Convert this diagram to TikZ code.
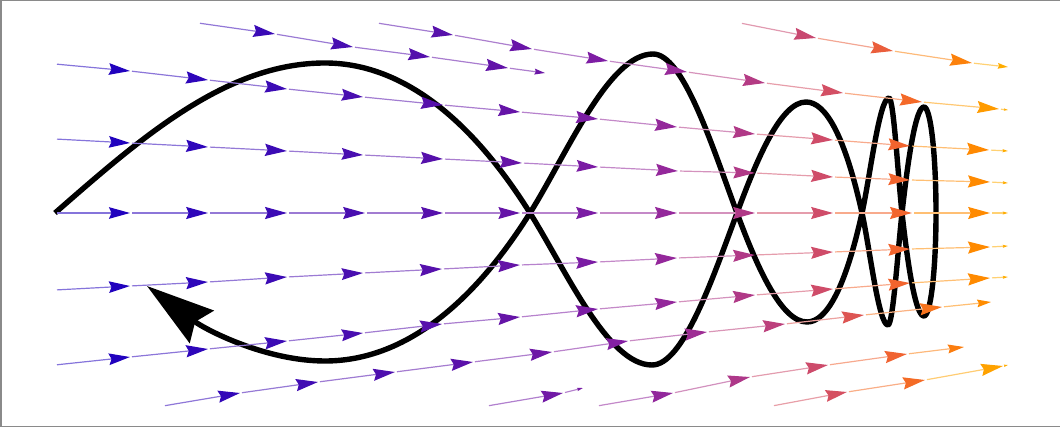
\documentclass[tikz,border=0pt]{standalone}
\usetikzlibrary{arrows.meta}
\definecolor{c0}{HTML}{1C00C0}
\definecolor{c1}{HTML}{3E0CB4}
\definecolor{c2}{HTML}{6012A8}
\definecolor{c3}{HTML}{8A22A2}
\definecolor{c4}{HTML}{B23A86}
\definecolor{c5}{HTML}{D24E66}
\definecolor{c6}{HTML}{F2642E}
\definecolor{c7}{HTML}{FF8A00}
\definecolor{c8}{HTML}{FFB000}
\definecolor{framegray}{HTML}{8A8A8A}
\newcommand\mixc[4]{\pgfmathsetmacro\rr{(\sx-#1)/(#2-#1)}\pgfmathtruncatemacro\pp{max(0,min(100,100*\rr))}\colorlet{segc}{#4!\pp!#3}}
\newcommand\segcolor[1]{\pgfmathsetmacro\sx{#1}%
 \ifdim\sx pt<300pt\relax \mixc{100}{300}{c0}{c1}%
 \else\ifdim\sx pt<500pt\relax \mixc{300}{500}{c1}{c2}%
 \else\ifdim\sx pt<650pt\relax \mixc{500}{650}{c2}{c3}%
 \else\ifdim\sx pt<760pt\relax \mixc{650}{760}{c3}{c4}%
 \else\ifdim\sx pt<840pt\relax \mixc{760}{840}{c4}{c5}%
 \else\ifdim\sx pt<910pt\relax \mixc{840}{910}{c5}{c6}%
 \else\ifdim\sx pt<990pt\relax \mixc{910}{990}{c6}{c7}%
 \else \mixc{990}{1010}{c7}{c8}%
 \fi\fi\fi\fi\fi\fi\fi}
\newcommand\stream[3]{%
 \foreach \x/\y [remember=\x as \px (initially #1), remember=\y as \py (initially #2)] in {#3}{%
  \segcolor{\x}%
  \pgfmathsetmacro\arlen{max(4,min(22,0.28*veclen(\x-\px,\y-\py)))}%
  \pgfmathsetmacro\arwid{0.55*\arlen}%
  \pgfmathsetmacro\arins{0.12*\arlen}%
  \draw[streamseg, draw=segc!55!white,
    -{Stealth[length=\arlen pt,width=\arwid pt,inset=\arins pt,color=segc]}]
    (\px,\py) -- (\x,\y);
 }}
\tikzset{
  streamseg/.style={line width=1.2pt, shorten <=2pt},
  bigcurve/.style={line width=5.4pt, black, line join=round,
    -{Stealth[length=68pt,width=40pt,inset=8pt]}}
}
\begin{document}
\begin{tikzpicture}[x=1pt,y=-1pt]
\useasboundingbox (0,0) rectangle (1060,427);
\draw[framegray, line width=1.5pt] (0.75,0.75) rectangle (1066,426.25);
% black curve
\draw[bigcurve] (55,213)
 .. controls +(88,-77) and +(-98,0) .. (325,63)
 .. controls +(74,0) and +(-61.5,-98) .. (530,213)
 .. controls +(36.6,58.6) and +(-44,0) .. (652,365)
 .. controls +(30.6,0) and +(-25.5,68.9) .. (737,213)
 .. controls +(20.7,-55.9) and +(-24.8,0) .. (806,102)
 .. controls +(20.2,0) and +(-16.8,-75.6) .. (862,213)
 .. controls +(7.8,35.1) and +(-9.4,0) .. (888,325)
 .. controls +(5,0) and +(-4.2,37.8) .. (902,213)
 .. controls +(6.6,-59.4) and +(-7.9,0) .. (924,107)
 .. controls +(6.6,0) and +(0,-58.5) .. (936,213)
 .. controls +(0,56.9) and +(6.6,0) .. (924,316)
 .. controls +(-7.9,0) and +(6.6,59.4) .. (902,213)
 .. controls +(-3.9,-35.1) and +(4.7,0) .. (889,98)
 .. controls +(-9.7,0) and +(8.1,-36.5) .. (862,213)
 .. controls +(-16.5,74.3) and +(19.8,0) .. (807,322)
 .. controls +(-25.2,0) and +(21,56.7) .. (737,213)
 .. controls +(-25.2,-68) and +(30.2,0) .. (653,54)
 .. controls +(-44.3,0) and +(36.9,-59) .. (530,213)
 .. controls +(-61.5,98) and +(73.8,0) .. (325,361)
 .. controls +(-59,0) and +(59,44) .. (147,286);
% streamlines
\stream{55}{64}{130/71,208/80,287/89,363/97,443/105,520/112,598/119,677/127,755/134,833/140,910/146,989/150,1008/151}
\stream{55}{139}{130/143,208/147,287/151,363/155,443/159,522/163,598/167,678/171,755/173,833/177,910/180,990/182,1008/183}
\stream{55}{213}{130/213,208/213,287/213,365/213,443/213,520/213,598/213,677/213,755/213,833/213,912/213,990/213,1008/213}
\stream{55}{290}{130/286,208/282,287/277,363/273,442/269,520/265,598/262,677/258,755/255,833/252,910/249,990/247,1008/246}
\stream{55}{365}{130/357,208/349,287/341,363/333,442/324,520/317,598/309,677/302,755/295,833/289,910/283,990/278,1008/277}
\stream{163}{406}{240/393,318/382,395/372,473/362,552/352,628/341,707/332,785/324,864/315,942/307,991/302}
\stream{487}{406}{563/393,583/388}
\stream{597}{406}{673/393,750/377,828/365,907/354,964/347}
\stream{772}{406}{847/392,925/380,1003/366,1008/365}
\stream{198}{23}{275/34,353/47,430/57,508/68,545/73}
\stream{377}{23}{453/35,532/49,608/61,687/72,765/83,843/93,922/102,999/109,1008/110}
\stream{740}{23}{816/38,893/51,972/63,1008/67}
\end{tikzpicture}
\end{document}
